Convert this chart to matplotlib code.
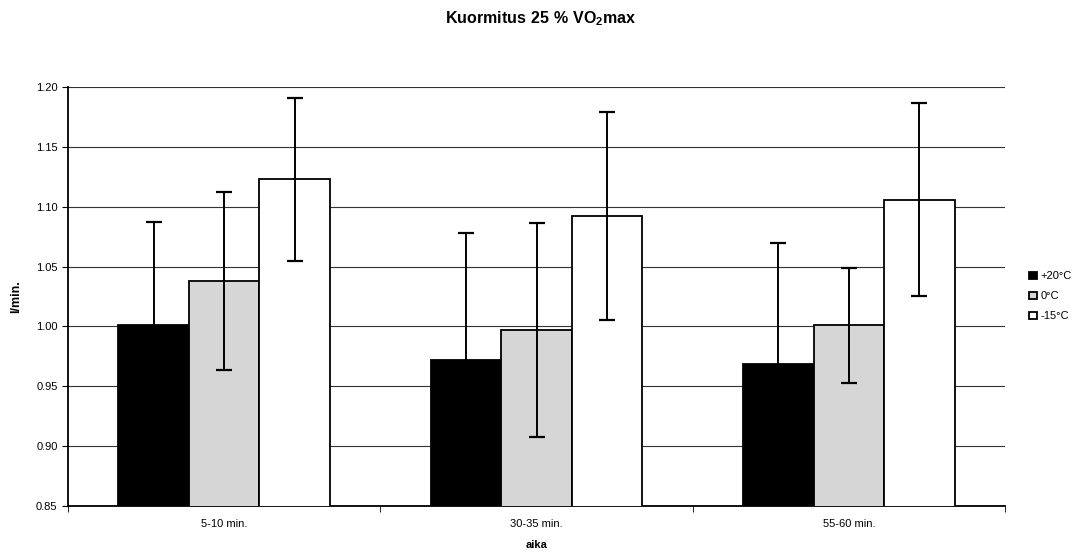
import matplotlib.pyplot as plt
import numpy as np

plt.rcParams['font.family'] = ['Liberation Sans', 'DejaVu Sans']
plt.rcParams['mathtext.fontset'] = 'custom'
plt.rcParams['mathtext.bf'] = 'Liberation Sans:bold'
plt.rcParams['mathtext.rm'] = 'Liberation Sans'

# time windows and temperatures
groups = ['5-10 min.', '30-35 min.', '55-60 min.']
temps = ['+20°C', '0°C', '-15°C']

# mean oxygen uptake (l/min.) per temperature
warm = [1.001, 0.972, 0.969]
zero = [1.038, 0.997, 1.001]
cold = [1.123, 1.092, 1.106]

# standard deviations
warm_sd = [0.086, 0.106, 0.101]
zero_sd = [0.074, 0.089, 0.048]
cold_sd = [0.068, 0.087, 0.081]

series = [warm, zero, cold]
errs = [warm_sd, zero_sd, cold_sd]
colors = ['black', '#d6d6d6', 'white']

fig = plt.figure(figsize=(10.85, 5.59), dpi=100)
ax = fig.add_axes([0.0627, 0.0948, 0.8636, 0.7496])

x = np.arange(len(groups))
w = 0.226
for i in range(3):
    ax.bar(x + (i - 1) * w, series[i], w, bottom=0, color=colors[i],
           edgecolor='black', linewidth=1.3, label=temps[i], zorder=3)
    ax.errorbar(x + (i - 1) * w, series[i], yerr=errs[i], fmt='none',
                ecolor='black', elinewidth=1.4, capsize=5.5, capthick=1.6,
                zorder=4)

ax.set_ylim(0.85, 1.20)
ax.set_xlim(-0.5, 2.5)
ax.set_yticks(np.arange(0.85, 1.2001, 0.05))
ax.set_yticklabels(['%.2f' % v for v in np.arange(0.85, 1.2001, 0.05)])
ax.yaxis.grid(True, color='#333333', linewidth=0.8, zorder=0)
ax.set_axisbelow(True)

ax.set_xticks(x)
ax.set_xticklabels(groups)
ax.set_xticks([-0.5, 0.5, 1.5, 2.5], minor=True)
ax.tick_params(axis='x', which='major', length=0, labelsize=8, pad=9)
ax.tick_params(axis='x', which='minor', length=4, direction='out')
ax.tick_params(axis='y', length=4, direction='out', labelsize=8)

for s in ['top', 'right']:
    ax.spines[s].set_visible(False)
ax.spines['left'].set_linewidth(1.3)
ax.spines['bottom'].set_linewidth(1.3)

ax.set_ylabel('l/min.', fontsize=9, fontweight='bold', labelpad=10)
ax.set_xlabel('aika', fontsize=8, fontweight='bold', labelpad=8)

fig.text(0.498, 0.966, r'$\mathbf{Kuormitus\ 25\ \%\ VO_2max}$',
         ha='center', va='center', fontsize=11.5)

ax.legend(loc='center left', bbox_to_anchor=(1.015, 0.5), frameon=False,
          fontsize=8, handlelength=0.7, handleheight=0.7, handletextpad=0.3,
          labelspacing=0.9)

fig.savefig('out.png', dpi=100)
